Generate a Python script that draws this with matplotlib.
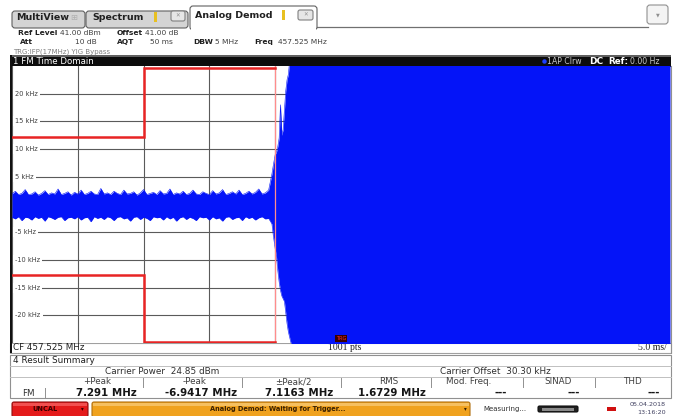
import matplotlib
matplotlib.use("Agg")
import matplotlib.pyplot as plt
from matplotlib.patches import Rectangle, FancyBboxPatch

W, H = 677, 416

# FM time domain trace: envelope of the demodulated signal (ms, kHz)
time_ms = [0.0, 0.25, 0.5, 0.75, 1.0, 1.25, 1.5, 1.75, 2.0, 2.25,
           2.5, 2.75, 3.0, 3.25, 3.5, 3.75, 4.0, 4.25, 4.5, 4.75,
           5.0, 5.25, 5.5, 5.75, 6.0, 6.25, 6.5, 6.75, 7.0, 7.25,
           7.5, 7.75, 8.0, 8.25, 8.5, 8.75, 9.0, 9.25, 9.5, 9.75,
           10.0, 10.25, 10.5, 10.75, 11.0, 11.25, 11.5, 11.75, 12.0, 12.25,
           12.5, 12.75, 13.0, 13.25, 13.5, 13.75, 14.0, 14.25, 14.5, 14.75,
           15.0, 15.25, 15.5, 15.75, 16.0, 16.25, 16.5, 16.75, 17.0, 17.25,
           17.5, 17.75, 18.0, 18.25, 18.5, 18.75, 19.0, 19.25, 19.5, 19.75,
           19.85, 20.0, 20.1, 20.2, 20.3, 20.4, 20.5, 20.6, 20.7, 20.8,
           20.9, 21.0, 21.1, 21.3, 21.5, 50.0]
upper_khz = [1.9, 2.4, 1.8, 2.0, 2.7, 1.8, 1.9, 2.3, 1.7, 2.0,
             2.5, 1.8, 2.1, 1.9, 2.8, 1.8, 2.0, 2.3, 1.7, 2.2,
             1.9, 2.6, 1.8, 2.0, 2.4, 1.9, 1.8, 2.9, 1.9, 2.1,
             1.8, 2.4, 2.0, 1.8, 2.6, 1.9, 2.0, 2.3, 1.7, 2.1,
             2.7, 1.8, 2.0, 2.2, 1.8, 2.5, 1.9, 2.0, 2.8, 1.8,
             2.1, 1.9, 2.4, 1.8, 2.0, 2.6, 1.9, 1.8, 2.3, 2.0,
             1.8, 2.5, 1.9, 2.1, 2.7, 1.8, 2.0, 2.3, 1.9, 2.6,
             1.8, 2.0, 2.4, 1.9, 2.2, 2.8, 1.9, 2.1, 2.6, 5.5,
             7.0, 9.0, 9.5, 10.5, 12.0, 18.0, 12.5, 13.5, 17.0, 20.5,
             22.5, 23.5, 26.0, 30.0, 30.0, 30.0]
lower_khz = [-2.3, -2.6, -2.2, -2.9, -2.3, -2.4, -2.8, -2.2, -2.5, -2.3,
             -3.0, -2.2, -2.4, -2.7, -2.3, -2.2, -2.9, -2.4, -2.3, -2.6,
             -2.2, -2.8, -2.4, -2.3, -3.1, -2.2, -2.5, -2.3, -2.7, -2.2,
             -2.4, -2.9, -2.3, -2.2, -2.6, -2.4, -3.0, -2.3, -2.2, -2.7,
             -2.3, -2.5, -2.9, -2.2, -2.4, -2.3, -2.8, -2.2, -2.6, -2.3,
             -3.0, -2.4, -2.2, -2.7, -2.3, -2.5, -2.9, -2.2, -2.4, -2.3,
             -2.8, -2.2, -2.6, -2.4, -3.0, -2.3, -2.2, -2.7, -2.4, -2.3,
             -2.9, -2.2, -2.5, -2.3, -2.8, -2.4, -2.2, -2.6, -2.5, -3.5,
             -5.5, -8.0, -9.5, -12.0, -14.0, -15.5, -16.5, -17.0, -17.5, -19.5,
             -21.5, -23.0, -24.0, -26.0, -30.0, -30.0]

limit_t = [0, 10, 10, 20]
limit_upper = [12.2, 12.2, 24.7, 24.7]
limit_lower = [-12.7, -12.7, -24.8, -24.8]
trigger_ms = 20.0

ytick_vals = [20, 15, 10, 5, -5, -10, -15, -20]
ytick_labels = ['20 kHz', '15 kHz', '10 kHz', '5 kHz',
                '-5 kHz', '-10 kHz', '-15 kHz', '-20 kHz']
xtick_vals = [0, 5, 10, 15, 20, 25, 30, 35, 40, 45, 50]

result_heads = ['+Peak', '-Peak', '\u00b1Peak/2', 'RMS', 'Mod. Freq.', 'SINAD', 'THD']
result_vals = ['7.291 MHz', '-6.9417 MHz', '7.1163 MHz', '1.6729 MHz', '---', '---', '---']

BLUE = '#0414f8'

fig = plt.figure(figsize=(W / 100, H / 100), dpi=100)
fig.patch.set_facecolor('white')

bg = fig.add_axes([0, 0, 1, 1])
bg.set_xlim(0, W)
bg.set_ylim(H, 0)
bg.axis('off')


def box(x0, y0, x1, y1, fc, ec='none', lw=0.8, z=1):
    bg.add_patch(Rectangle((x0, y0), x1 - x0, y1 - y0, fc=fc, ec=ec, lw=lw, zorder=z))


def rbox(x0, y0, x1, y1, fc, ec='#606060', r=3, lw=0.8, z=1):
    bg.add_patch(FancyBboxPatch((x0, y0), x1 - x0, y1 - y0,
                                boxstyle='round,pad=0,rounding_size=%s' % r,
                                fc=fc, ec=ec, lw=lw, zorder=z))


def txt(x, y, s, size=5.5, ha='left', color='#202020', weight='normal', **kw):
    bg.text(x, y, s, fontsize=size, ha=ha, va='center', color=color,
            fontweight=weight, zorder=5, **kw)


# ---- tab bar
bg.plot([317, 648], [26.5, 26.5], color='#707070', lw=0.9, zorder=1)
rbox(12, 11, 85, 28, '#d4d4d4')
rbox(86, 11, 188, 28, '#d4d4d4')
rbox(190, 6, 317, 30, 'white', z=2)
box(191, 27, 316, 31, 'white', z=3)
txt(16, 18, 'MultiView', size=6.8, weight='bold')
txt(74, 18, '\u229e', size=6, color='#b0b0b0', ha='center')
txt(92, 18, 'Spectrum', size=6.8, weight='bold')
box(154, 12, 157, 22, '#e8c020', z=4)
rbox(171, 11, 185, 21, '#e6e6e6', ec='#808080', r=2)
txt(178, 16, '\u2715', size=4, ha='center', color='#909090')
txt(195, 16, 'Analog Demod', size=6.8, weight='bold')
box(282, 10, 285, 20, '#e8c020', z=4)
rbox(298, 10, 313, 20, '#e6e6e6', ec='#808080', r=2, z=4)
txt(305.5, 15, '\u2715', size=4, ha='center', color='#909090')
rbox(647, 5, 668, 24, '#f4f4f4', ec='#909090', r=3)
txt(657.5, 14.5, '\u25bc', size=3.5, ha='center', color='#909090')

# ---- setup info
txt(18, 33, 'Ref Level', size=5.4, weight='bold')
txt(60, 33, '41.00 dBm', size=5.4, color='#404040')
txt(117, 33, 'Offset', size=5.4, weight='bold')
txt(145, 33, '41.00 dB', size=5.4, color='#404040')
txt(20, 42, 'Att', size=5.4, weight='bold')
txt(97, 42, '10 dB', size=5.4, color='#404040', ha='right')
txt(117, 42, 'AQT', size=5.4, weight='bold')
txt(173, 42, '50 ms', size=5.4, color='#404040', ha='right')
txt(193, 42, 'DBW', size=5.4, weight='bold')
txt(215, 42, '5 MHz', size=5.4, color='#404040')
txt(254, 42, 'Freq', size=5.4, weight='bold')
txt(278, 42, '457.525 MHz', size=5.4, color='#404040')
txt(13, 51.5, 'TRG:IFP(17MHz) YIG Bypass', size=5, color='#808080')

# ---- window title bar
box(10, 55, 671, 66.5, '#0c0c0c')
box(10, 55, 671, 56.5, '#606060', z=2)
txt(13, 61, '1 FM Time Domain', size=6.2, color='white')
bg.plot([544], [61], marker='o', ms=2.2, color='#2040ff', zorder=5)
txt(547, 61, '1AP Clrw', size=5.6, color='#c8c8c8')
txt(589, 61, 'DC', size=6.5, color='white', weight='bold')
txt(608, 61, 'Ref:', size=6.3, color='white', weight='bold')
txt(630, 61, '0.00 Hz', size=5.6, color='#c8c8c8')

# left border of diagram (drawn on top of everything)
fig.add_artist(Rectangle((10 / W, 1 - 353 / H), 2 / W, 298 / H,
                         transform=fig.transFigure, fc='#111111', ec='none', zorder=10))
bg.plot([671, 671], [66, 353], color='#909090', lw=0.8, zorder=2)

# ---- diagram
ax = fig.add_axes([12 / W, 1 - 343 / H, 658 / W, 277 / H])
ax.set_facecolor('white')
ax.set_xlim(0, 50)
ax.set_ylim(-25, 25)
ax.set_xticks(xtick_vals)
ax.set_yticks(ytick_vals)
ax.grid(True, color='#5a5a5a', lw=0.8)
ax.tick_params(length=0, labelbottom=False, labelleft=False)
for s in ax.spines.values():
    s.set_visible(False)
for v, lab in zip(ytick_vals, ytick_labels):
    ax.text(0.25, v, lab, fontsize=4.8, color='#404040', va='center', ha='left',
            bbox=dict(fc='white', ec='none', pad=1.5), zorder=3)
ax.fill_between(time_ms, lower_khz, upper_khz, color=BLUE, lw=0, zorder=4)
ax.plot(time_ms, upper_khz, color=BLUE, lw=0.4, zorder=4)
ax.plot(time_ms, lower_khz, color=BLUE, lw=0.4, zorder=4)
ax.axvline(trigger_ms, color='#ff8c8c', lw=0.9, zorder=5)
ax.plot(limit_t, limit_upper, color='#e82424', lw=1.8, zorder=6, solid_joinstyle='miter')
ax.plot(limit_t, limit_lower, color='#e82424', lw=1.8, zorder=6, solid_joinstyle='miter')
ax.text(25, -24.2, 'TRG', fontsize=3.6, color='#ff3030', ha='center', va='center',
        bbox=dict(fc='#3a0000', ec='none', pad=0.8), zorder=7)

# ---- status row under diagram
box(10, 343, 671, 353, 'white', ec='#a0a0a0')
txt(13, 348, 'CF 457.525 MHz', size=6.3, color='#202020')
txt(345, 348, '1001 pts', size=7, ha='center', color='#202020', family='Liberation Serif')
txt(667, 348, '5.0 ms/', size=7, ha='right', color='#202020', family='Liberation Serif')

# ---- result summary
box(10, 355, 671, 398, 'white', ec='#909090')
bg.plot([10, 671], [365.5, 365.5], color='#c0c0c0', lw=0.7, zorder=2)
bg.plot([10, 671], [376.5, 376.5], color='#c0c0c0', lw=0.7, zorder=2)
txt(13, 360.5, '4 Result Summary', size=6.4, color='#202020')
txt(162, 371, 'Carrier Power  24.85 dBm', size=6.4, ha='center', color='#303030')
txt(495, 371, 'Carrier Offset  30.30 kHz', size=6.4, ha='center', color='#303030')

head_x = [97, 195, 293, 389, 469, 558, 632]
val_right = [137, 237, 333, 426, 507, 580, 660]
seps = [143, 242, 341, 431, 523, 595]
for hx, vx, head, val in zip(head_x, val_right, result_heads, result_vals):
    txt(hx, 382, head, size=6.3, ha='center', color='#404040')
    txt(vx, 393, val, size=7.4, ha='right', color='#151515', weight='bold')
for sx in seps:
    bg.plot([sx, sx], [377.5, 387], color='#909090', lw=0.7, zorder=2)
bg.plot([45, 45], [388, 397], color='#909090', lw=0.7, zorder=2)
txt(28, 393.5, 'FM', size=6.3, ha='center', color='#303030')

# ---- bottom status bar
rbox(12, 402, 88, 417, '#e41a1a', ec='#901010', r=2)
box(13, 402.5, 87, 406, '#f25050', z=2)
txt(45, 409, 'UNCAL', size=4.8, ha='center', color='#3a0000', weight='bold')
txt(82, 409, '\u25be', size=4, ha='center', color='#3a0000')
rbox(92, 402, 470, 417, '#f0a21e', ec='#b07010', r=2)
box(93, 402.5, 469, 406, '#f6c060', z=2)
txt(345, 409, 'Analog Demod: Waiting for Trigger...', size=4.8, ha='right',
    color='#3a2000', weight='bold')
txt(465, 409, '\u25be', size=4, ha='center', color='#3a2000')
txt(483, 409, 'Measuring...', size=5, color='#303030')
rbox(538, 406, 578, 412, '#202020', ec='#101010', r=1.5)
box(542, 407.5, 574, 410.5, '#8a8a8a', z=2)
box(607, 407, 616, 411, '#d01010', z=2)
txt(666, 404, '05.04.2018', size=4.6, ha='right', color='#404060')
txt(666, 412.5, '13:16:20', size=4.6, ha='right', color='#404060')

fig.savefig('out.png', dpi=100, facecolor='white')
